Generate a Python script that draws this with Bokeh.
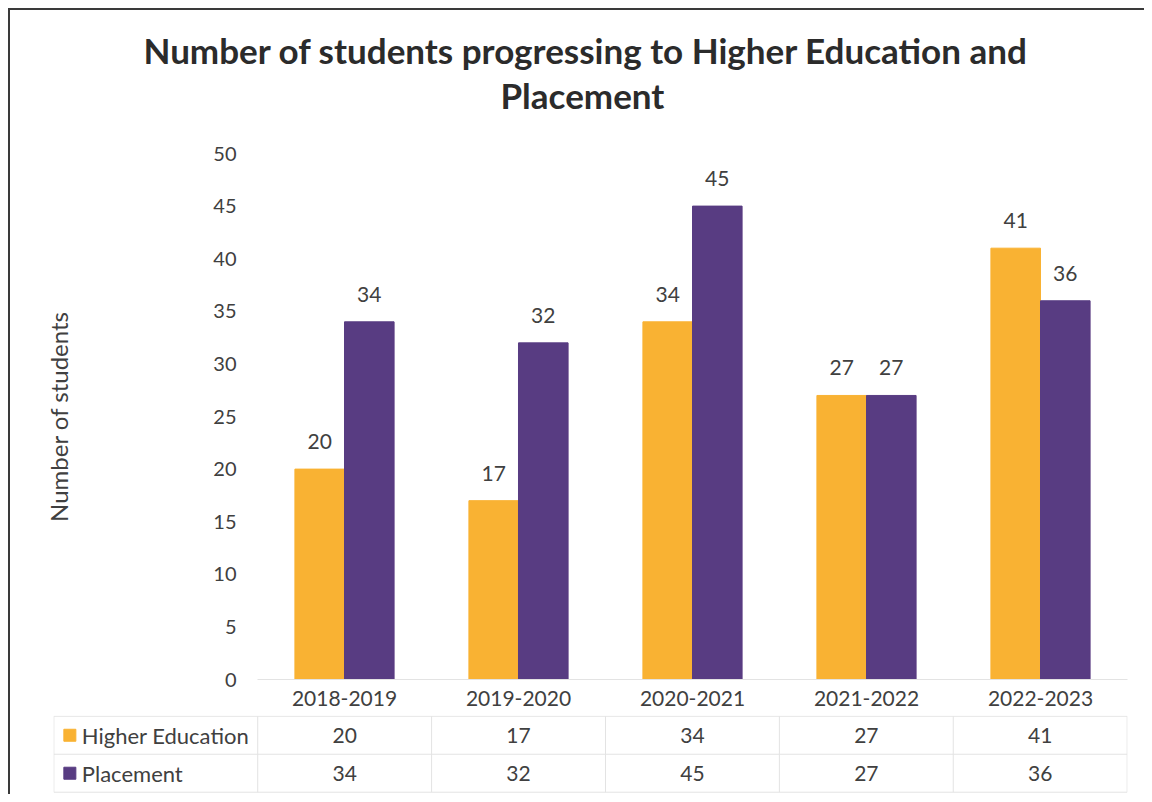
from bokeh.plotting import figure
from bokeh.models import Range1d, FixedTicker, Title, ColumnDataSource
from bokeh.transform import dodge
from bokeh.embed import file_html
from bokeh.resources import INLINE
from bokeh.core.properties import value

# ---- data ----
years = ["2018-2019", "2019-2020", "2020-2021", "2021-2022", "2022-2023"]
higher_education = [20, 17, 34, 27, 41]
placement = [34, 32, 45, 27, 36]
series_names = ["Higher Education", "Placement"]
y_ticks = [0, 5, 10, 15, 20, 25, 30, 35, 40, 45, 50]
title_line1 = "Number of students progressing to Higher Education and"
title_line2 = "Placement"
y_label = "Number of students"

# ---- style ----
FONT = "Lato"
ORANGE = "#F9B233"
PURPLE = "#583C82"
TXT = "#404040"
GRIDC = "#e3e3e3"
BAR_W = 0.285
OFF = 0.1425

xs = list(range(len(years)))
src = ColumnDataSource(dict(
    x=xs,
    he=higher_education,
    pl=placement,
    he_lbl=[str(v) for v in higher_education],
    pl_lbl=[str(v) for v in placement],
))

pa = figure(width=1134, height=705,
            x_range=Range1d(-0.5, len(years) - 0.5), y_range=Range1d(0, 50),
            output_backend="svg", toolbar_location=None,
            min_border_left=247, min_border_right=17,
            min_border_top=143, min_border_bottom=36,
            styles={"margin-left": "10px", "margin-top": "10px",
                    "box-shadow": "-2px 0 0 0 #3a3a3a, 0 -2px 0 0 #3a3a3a, "
                                  "-2px -2px 0 0 #3a3a3a"})
pa.title = None

t2 = Title(text=title_line2, align="left", offset=243, standoff=75,
           text_font=FONT, text_font_size="35px", text_font_style="bold",
           text_color="#2b2b2b")
t1 = Title(text=title_line1, align="left", offset=-114, standoff=-73,
           text_font=FONT, text_font_size="35px", text_font_style="bold",
           text_color="#2b2b2b")
pa.add_layout(t2, "above")
pa.add_layout(t1, "above")

pa.vbar(x=dodge("x", -OFF, range=pa.x_range), top="he", width=BAR_W,
        color=ORANGE, source=src)
pa.vbar(x=dodge("x", OFF, range=pa.x_range), top="pl", width=BAR_W,
        color=PURPLE, source=src)

for col, lbl, o in (("he", "he_lbl", -OFF), ("pl", "pl_lbl", OFF)):
    pa.text(x=dodge("x", o, range=pa.x_range), y=col, text=lbl, source=src,
            text_align="center", text_baseline="bottom", y_offset=-20,
            text_font=value(FONT), text_font_size="21px", text_color=TXT)

pa.xgrid.visible = False
pa.ygrid.visible = False
pa.outline_line_color = None

ya = pa.yaxis[0]
ya.ticker = FixedTicker(ticks=y_ticks)
ya.axis_line_color = None
ya.major_tick_line_color = None
ya.minor_tick_line_color = None
ya.major_label_standoff = 15
ya.major_label_text_font = FONT
ya.major_label_text_font_size = "20px"
ya.major_label_text_color = TXT
ya.axis_label = y_label
ya.axis_label_text_font = FONT
ya.axis_label_text_font_size = "24px"
ya.axis_label_text_font_style = "normal"
ya.axis_label_text_color = TXT
ya.axis_label_standoff = 137

xa = pa.xaxis[0]
xa.ticker = FixedTicker(ticks=xs)
xa.major_label_overrides = {i: y for i, y in enumerate(years)}
xa.axis_line_color = GRIDC
xa.major_tick_line_color = None
xa.minor_tick_line_color = None
xa.major_label_standoff = 5
xa.major_label_text_font = FONT
xa.major_label_text_font_size = "21px"
xa.major_label_text_color = TXT

# ---- table ----
left_edge = -0.5 - 204 / 174
pb = figure(width=1134, height=79,
            x_range=Range1d(left_edge - 0.002, len(years) - 0.5 + 0.002),
            y_range=Range1d(2.06, -0.02),
            x_axis_type=None, y_axis_type=None,
            output_backend="svg", toolbar_location=None,
            min_border=0, min_border_left=43, min_border_right=17,
            styles={"margin-left": "10px",
                    "box-shadow": "-2px 0 0 0 #3a3a3a"})
pb.xgrid.visible = False
pb.ygrid.visible = False
pb.outline_line_color = None

n_rows = len(series_names)
hx0 = [left_edge] * (n_rows + 1)
hx1 = [len(years) - 0.5] * (n_rows + 1)
hy = list(range(n_rows + 1))
pb.segment(x0=hx0, y0=hy, x1=hx1, y1=hy, line_color=GRIDC, line_width=1)
vx = [left_edge] + [i - 0.5 for i in range(len(years) + 1)]
pb.segment(x0=vx, y0=[0] * len(vx), x1=vx, y1=[n_rows] * len(vx),
           line_color=GRIDC, line_width=1)

for r, (vals, colr) in enumerate(((higher_education, ORANGE), (placement, PURPLE))):
    pb.text(x=xs, y=[r + 0.5] * len(xs), text=[str(v) for v in vals],
            text_align="center", text_baseline="middle",
            text_font=value(FONT), text_font_size="21px", text_color=TXT)
    pb.scatter(x=[left_edge + 0.092], y=[r + 0.5], marker="square", size=12,
               color=colr)
    pb.text(x=[left_edge + 0.161], y=[r + 0.5], text=[series_names[r]],
            text_align="left", text_baseline="middle",
            text_font=value(FONT), text_font_size="22px", text_color=TXT)

open("out.html", "w").write(file_html([pa, pb], INLINE))
